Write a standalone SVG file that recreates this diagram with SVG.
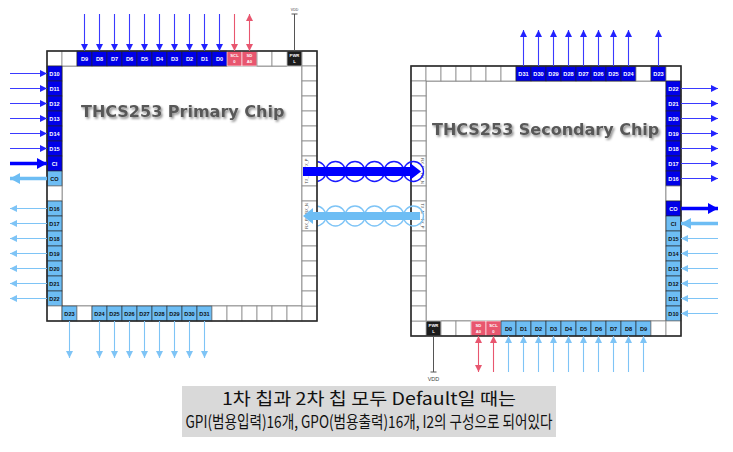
<svg xmlns="http://www.w3.org/2000/svg" width="733" height="452" viewBox="0 0 733 452">
<style>
.c{fill:#fff;stroke:#8a8a8a;stroke-width:0.8}
.db{fill:#0000e8;stroke:#222;stroke-width:0.6}
.lb{fill:#6dbdf4;stroke:#222;stroke-width:0.6}
.pk{fill:#e8566f;stroke:#fff;stroke-width:0.6}
.bk{fill:#1c1c1c;stroke:#fff;stroke-width:0.6}
.frame{fill:none;stroke:#2a2a2a;stroke-width:1.6}
.inner{fill:#fff;stroke:#555;stroke-width:0.8}
.t{font-family:"Liberation Sans",Arial,sans-serif;font-size:5.6px;font-weight:bold;text-anchor:middle}
.ts{font-family:"Liberation Sans",Arial,sans-serif;font-size:4.2px;font-weight:bold;text-anchor:middle}
.tr{font-family:"Liberation Sans",Arial,sans-serif;font-size:4px;fill:#444;text-anchor:middle}
.w{fill:#fff}
.k{fill:#111}
.aB{stroke:#3a3aff;stroke-width:1.1;fill:none}
.aL{stroke:#7ec4f6;stroke-width:1.1;fill:none}
.aP{stroke:#e8566f;stroke-width:1.1;fill:none}
.aG{stroke:#555;stroke-width:1;fill:none}
.thB{stroke:#0000ff;stroke-width:3.5;fill:none}
.thL{stroke:#6dbdf4;stroke-width:3.5;fill:none}
.cirB{fill:none;stroke:#1a1aff;stroke-width:1.4}
.cirL{fill:none;stroke:#7ec4f6;stroke-width:1.4}
.title{font-family:"DejaVu Sans",Verdana,sans-serif;font-weight:bold;font-size:16px;fill:#595959}
.note{font-family:"Noto Sans CJK KR","Noto Sans",sans-serif;font-size:17px;fill:#111;text-anchor:middle}
</style>
<defs>
<marker id="hB" markerUnits="userSpaceOnUse" markerWidth="8" markerHeight="8" refX="7" refY="3.5" orient="auto-start-reverse"><path d="M0,0 L7,3.5 L0,7 Z" fill="#2222ff"/></marker>
<marker id="hL" markerUnits="userSpaceOnUse" markerWidth="8" markerHeight="8" refX="7" refY="3.5" orient="auto-start-reverse"><path d="M0,0 L7,3.5 L0,7 Z" fill="#7ec4f6"/></marker>
<marker id="hP" markerUnits="userSpaceOnUse" markerWidth="8" markerHeight="8" refX="7" refY="3.5" orient="auto-start-reverse"><path d="M0,0 L7,3.5 L0,7 Z" fill="#e8566f"/></marker>
<marker id="hBT" markerUnits="userSpaceOnUse" markerWidth="12" markerHeight="12" refX="10" refY="5.5" orient="auto"><path d="M0,0 L10,5.5 L0,11 Z" fill="#0000ff"/></marker>
<marker id="hLT" markerUnits="userSpaceOnUse" markerWidth="12" markerHeight="12" refX="10" refY="5.5" orient="auto"><path d="M0,0 L10,5.5 L0,11 Z" fill="#6dbdf4"/></marker>
<filter id="sh" x="-10%" y="-30%" width="120%" height="160%"><feDropShadow dx="1.5" dy="1.8" stdDeviation="1" flood-color="#000" flood-opacity="0.45"/></filter>
</defs>
<rect width="733" height="452" fill="#fff"/>

<!-- Secondary chip -->
<g id="secondary-chip">
<rect x="411" y="66" width="270" height="270" fill="#fff"/>
<rect class="inner" x="426" y="81" width="240" height="240"/>
<rect class="c" x="411" y="66" width="15" height="15"/><rect class="c" x="426" y="66" width="15" height="15"/><rect class="c" x="441" y="66" width="15" height="15"/><rect class="c" x="456" y="66" width="15" height="15"/><rect class="c" x="471" y="66" width="15" height="15"/><rect class="c" x="486" y="66" width="15" height="15"/><rect class="c" x="501" y="66" width="15" height="15"/>
<rect class="db" x="516" y="66" width="15" height="15"/><text class="t w" x="523.5" y="75.5">D31</text>
<rect class="db" x="531" y="66" width="15" height="15"/><text class="t w" x="538.5" y="75.5">D30</text>
<rect class="db" x="546" y="66" width="15" height="15"/><text class="t w" x="553.5" y="75.5">D29</text>
<rect class="db" x="561" y="66" width="15" height="15"/><text class="t w" x="568.5" y="75.5">D28</text>
<rect class="db" x="576" y="66" width="15" height="15"/><text class="t w" x="583.5" y="75.5">D27</text>
<rect class="db" x="591" y="66" width="15" height="15"/><text class="t w" x="598.5" y="75.5">D26</text>
<rect class="db" x="606" y="66" width="15" height="15"/><text class="t w" x="613.5" y="75.5">D25</text>
<rect class="db" x="621" y="66" width="15" height="15"/><text class="t w" x="628.5" y="75.5">D24</text>
<rect class="c" x="636" y="66" width="15" height="15"/>
<rect class="db" x="651" y="66" width="15" height="15"/><text class="t w" x="658.5" y="75.5">D23</text>
<rect class="c" x="666" y="66" width="15" height="15"/>
<rect class="db" x="666" y="81" width="15" height="15"/><text class="t w" x="673.5" y="90.5">D22</text>
<rect class="db" x="666" y="96" width="15" height="15"/><text class="t w" x="673.5" y="105.5">D21</text>
<rect class="db" x="666" y="111" width="15" height="15"/><text class="t w" x="673.5" y="120.5">D20</text>
<rect class="db" x="666" y="126" width="15" height="15"/><text class="t w" x="673.5" y="135.5">D19</text>
<rect class="db" x="666" y="141" width="15" height="15"/><text class="t w" x="673.5" y="150.5">D18</text>
<rect class="db" x="666" y="156" width="15" height="15"/><text class="t w" x="673.5" y="165.5">D17</text>
<rect class="db" x="666" y="171" width="15" height="15"/><text class="t w" x="673.5" y="180.5">D16</text>
<rect class="c" x="666" y="186" width="15" height="15"/>
<rect class="db" x="666" y="201" width="15" height="15"/><text class="t w" x="673.5" y="210.5">CO</text>
<rect class="lb" x="666" y="216" width="15" height="15"/><text class="t k" x="673.5" y="225.5">CI</text>
<rect class="lb" x="666" y="231" width="15" height="15"/><text class="t k" x="673.5" y="240.5">D15</text>
<rect class="lb" x="666" y="246" width="15" height="15"/><text class="t k" x="673.5" y="255.5">D14</text>
<rect class="lb" x="666" y="261" width="15" height="15"/><text class="t k" x="673.5" y="270.5">D13</text>
<rect class="lb" x="666" y="276" width="15" height="15"/><text class="t k" x="673.5" y="285.5">D12</text>
<rect class="lb" x="666" y="291" width="15" height="15"/><text class="t k" x="673.5" y="300.5">D11</text>
<rect class="lb" x="666" y="306" width="15" height="15"/><text class="t k" x="673.5" y="315.5">D10</text>
<rect class="c" x="411" y="321" width="15" height="15"/>
<rect class="bk" x="426" y="321" width="15" height="15"/><text class="ts w" x="433.5" y="327">PWR</text><text class="ts w" x="433.5" y="332.5">L</text>
<rect class="c" x="441" y="321" width="15" height="15"/><rect class="c" x="456" y="321" width="15" height="15"/>
<rect class="pk" x="471" y="321" width="15" height="15"/><text class="ts w" x="478.5" y="327">SD</text><text class="ts w" x="478.5" y="332.5">A0</text>
<rect class="pk" x="486" y="321" width="15" height="15"/><text class="ts w" x="493.5" y="327">SCL</text><text class="ts w" x="493.5" y="332.5">0</text>
<rect class="lb" x="501" y="321" width="15" height="15"/><text class="t k" x="508.5" y="330.5">D0</text>
<rect class="lb" x="516" y="321" width="15" height="15"/><text class="t k" x="523.5" y="330.5">D1</text>
<rect class="lb" x="531" y="321" width="15" height="15"/><text class="t k" x="538.5" y="330.5">D2</text>
<rect class="lb" x="546" y="321" width="15" height="15"/><text class="t k" x="553.5" y="330.5">D3</text>
<rect class="lb" x="561" y="321" width="15" height="15"/><text class="t k" x="568.5" y="330.5">D4</text>
<rect class="lb" x="576" y="321" width="15" height="15"/><text class="t k" x="583.5" y="330.5">D5</text>
<rect class="lb" x="591" y="321" width="15" height="15"/><text class="t k" x="598.5" y="330.5">D6</text>
<rect class="lb" x="606" y="321" width="15" height="15"/><text class="t k" x="613.5" y="330.5">D7</text>
<rect class="lb" x="621" y="321" width="15" height="15"/><text class="t k" x="628.5" y="330.5">D8</text>
<rect class="lb" x="636" y="321" width="15" height="15"/><text class="t k" x="643.5" y="330.5">D9</text>
<rect class="c" x="651" y="321" width="15" height="15"/><rect class="c" x="666" y="321" width="15" height="15"/>
<rect class="c" x="411" y="81" width="15" height="15"/><rect class="c" x="411" y="96" width="15" height="15"/><rect class="c" x="411" y="111" width="15" height="15"/><rect class="c" x="411" y="126" width="15" height="15"/><rect class="c" x="411" y="141" width="15" height="15"/>
<rect class="c" x="411" y="156" width="15" height="30"/>
<text class="tr" transform="translate(420.5,163.5) rotate(90)">RX_P</text><text class="tr" transform="translate(420.5,178.5) rotate(90)">RX_N</text>
<rect class="c" x="411" y="186" width="15" height="15"/>
<rect class="c" x="411" y="201" width="15" height="30"/>
<text class="tr" transform="translate(420.5,208.5) rotate(90)">TX_N</text><text class="tr" transform="translate(420.5,223.5) rotate(90)">TX_P</text>
<rect class="c" x="411" y="231" width="15" height="15"/><rect class="c" x="411" y="246" width="15" height="15"/><rect class="c" x="411" y="261" width="15" height="15"/><rect class="c" x="411" y="276" width="15" height="15"/><rect class="c" x="411" y="291" width="15" height="15"/><rect class="c" x="411" y="306" width="15" height="15"/>
<rect class="frame" x="411" y="66" width="270" height="270"/>
<text class="title" x="432" y="135" filter="url(#sh)">THCS253 Secondary Chip</text>
</g>

<g id="link-coils">
<circle class="cirB" cx="316" cy="171.5" r="10"/><circle class="cirB" cx="335.5" cy="171.5" r="10"/><circle class="cirB" cx="355" cy="171.5" r="10"/><circle class="cirB" cx="374.5" cy="171.5" r="10"/><circle class="cirB" cx="394" cy="171.5" r="10"/><circle class="cirB" cx="413.5" cy="171.5" r="10"/>
<circle class="cirL" cx="316" cy="216" r="10"/><circle class="cirL" cx="335.5" cy="216" r="10"/><circle class="cirL" cx="355" cy="216" r="10"/><circle class="cirL" cx="374.5" cy="216" r="10"/><circle class="cirL" cx="394" cy="216" r="10"/><circle class="cirL" cx="413.5" cy="216" r="10"/>
</g>

<g id="primary-chip">
<rect x="47" y="51" width="270" height="270" fill="#fff"/>
<rect class="inner" x="62" y="66" width="240" height="240"/>
<rect class="c" x="47" y="51" width="15" height="15"/><rect class="c" x="62" y="51" width="15" height="15"/>
<rect class="db" x="77" y="51" width="15" height="15"/><text class="t w" x="84.5" y="60.5">D9</text>
<rect class="db" x="92" y="51" width="15" height="15"/><text class="t w" x="99.5" y="60.5">D8</text>
<rect class="db" x="107" y="51" width="15" height="15"/><text class="t w" x="114.5" y="60.5">D7</text>
<rect class="db" x="122" y="51" width="15" height="15"/><text class="t w" x="129.5" y="60.5">D6</text>
<rect class="db" x="137" y="51" width="15" height="15"/><text class="t w" x="144.5" y="60.5">D5</text>
<rect class="db" x="152" y="51" width="15" height="15"/><text class="t w" x="159.5" y="60.5">D4</text>
<rect class="db" x="167" y="51" width="15" height="15"/><text class="t w" x="174.5" y="60.5">D3</text>
<rect class="db" x="182" y="51" width="15" height="15"/><text class="t w" x="189.5" y="60.5">D2</text>
<rect class="db" x="197" y="51" width="15" height="15"/><text class="t w" x="204.5" y="60.5">D1</text>
<rect class="db" x="212" y="51" width="15" height="15"/><text class="t w" x="219.5" y="60.5">D0</text>
<rect class="pk" x="227" y="51" width="15" height="15"/><text class="ts w" x="234.5" y="57">SCL</text><text class="ts w" x="234.5" y="62.5">0</text>
<rect class="pk" x="242" y="51" width="15" height="15"/><text class="ts w" x="249.5" y="57">SD</text><text class="ts w" x="249.5" y="62.5">A0</text>
<rect class="c" x="257" y="51" width="15" height="15"/><rect class="c" x="272" y="51" width="15" height="15"/>
<rect class="bk" x="287" y="51" width="15" height="15"/><text class="ts w" x="294.5" y="57">PWR</text><text class="ts w" x="294.5" y="62.5">L</text>
<rect class="c" x="302" y="51" width="15" height="15"/>
<rect class="db" x="47" y="66" width="15" height="15"/><text class="t w" x="54.5" y="75.5">D10</text>
<rect class="db" x="47" y="81" width="15" height="15"/><text class="t w" x="54.5" y="90.5">D11</text>
<rect class="db" x="47" y="96" width="15" height="15"/><text class="t w" x="54.5" y="105.5">D12</text>
<rect class="db" x="47" y="111" width="15" height="15"/><text class="t w" x="54.5" y="120.5">D13</text>
<rect class="db" x="47" y="126" width="15" height="15"/><text class="t w" x="54.5" y="135.5">D14</text>
<rect class="db" x="47" y="141" width="15" height="15"/><text class="t w" x="54.5" y="150.5">D15</text>
<rect class="db" x="47" y="156" width="15" height="15"/><text class="t w" x="54.5" y="165.5">CI</text>
<rect class="lb" x="47" y="171" width="15" height="15"/><text class="t k" x="54.5" y="180.5">CO</text>
<rect class="c" x="47" y="186" width="15" height="15"/>
<rect class="lb" x="47" y="201" width="15" height="15"/><text class="t k" x="54.5" y="210.5">D16</text>
<rect class="lb" x="47" y="216" width="15" height="15"/><text class="t k" x="54.5" y="225.5">D17</text>
<rect class="lb" x="47" y="231" width="15" height="15"/><text class="t k" x="54.5" y="240.5">D18</text>
<rect class="lb" x="47" y="246" width="15" height="15"/><text class="t k" x="54.5" y="255.5">D19</text>
<rect class="lb" x="47" y="261" width="15" height="15"/><text class="t k" x="54.5" y="270.5">D20</text>
<rect class="lb" x="47" y="276" width="15" height="15"/><text class="t k" x="54.5" y="285.5">D21</text>
<rect class="lb" x="47" y="291" width="15" height="15"/><text class="t k" x="54.5" y="300.5">D22</text>
<rect class="c" x="47" y="306" width="15" height="15"/>
<rect class="lb" x="62" y="306" width="15" height="15"/><text class="t k" x="69.5" y="315.5">D23</text>
<rect class="c" x="77" y="306" width="15" height="15"/>
<rect class="lb" x="92" y="306" width="15" height="15"/><text class="t k" x="99.5" y="315.5">D24</text>
<rect class="lb" x="107" y="306" width="15" height="15"/><text class="t k" x="114.5" y="315.5">D25</text>
<rect class="lb" x="122" y="306" width="15" height="15"/><text class="t k" x="129.5" y="315.5">D26</text>
<rect class="lb" x="137" y="306" width="15" height="15"/><text class="t k" x="144.5" y="315.5">D27</text>
<rect class="lb" x="152" y="306" width="15" height="15"/><text class="t k" x="159.5" y="315.5">D28</text>
<rect class="lb" x="167" y="306" width="15" height="15"/><text class="t k" x="174.5" y="315.5">D29</text>
<rect class="lb" x="182" y="306" width="15" height="15"/><text class="t k" x="189.5" y="315.5">D30</text>
<rect class="lb" x="197" y="306" width="15" height="15"/><text class="t k" x="204.5" y="315.5">D31</text>
<rect class="c" x="212" y="306" width="15" height="15"/><rect class="c" x="227" y="306" width="15" height="15"/><rect class="c" x="242" y="306" width="15" height="15"/><rect class="c" x="257" y="306" width="15" height="15"/><rect class="c" x="272" y="306" width="15" height="15"/><rect class="c" x="287" y="306" width="15" height="15"/><rect class="c" x="302" y="306" width="15" height="15"/>
<rect class="c" x="302" y="66" width="15" height="15"/><rect class="c" x="302" y="81" width="15" height="15"/><rect class="c" x="302" y="96" width="15" height="15"/><rect class="c" x="302" y="111" width="15" height="15"/><rect class="c" x="302" y="126" width="15" height="15"/><rect class="c" x="302" y="141" width="15" height="15"/>
<rect class="c" x="302" y="156" width="15" height="30"/>
<text class="tr" transform="translate(307.5,163.5) rotate(-90)">TX_P</text><text class="tr" transform="translate(307.5,178.5) rotate(-90)">TX_N</text>
<rect class="c" x="302" y="186" width="15" height="15"/>
<rect class="c" x="302" y="201" width="15" height="30"/>
<text class="tr" transform="translate(307.5,208.5) rotate(-90)">RX_N</text><text class="tr" transform="translate(307.5,223.5) rotate(-90)">RX_P</text>
<rect class="c" x="302" y="231" width="15" height="15"/><rect class="c" x="302" y="246" width="15" height="15"/><rect class="c" x="302" y="261" width="15" height="15"/><rect class="c" x="302" y="276" width="15" height="15"/><rect class="c" x="302" y="291" width="15" height="15"/>
<rect class="frame" x="47" y="51" width="270" height="270"/>
<text class="title" x="81" y="117" filter="url(#sh)">THCS253 Primary Chip</text>
</g>

<g id="connectors">
<line class="aB" x1="84.5" y1="14" x2="84.5" y2="51" marker-end="url(#hB)"/>
<line class="aB" x1="99.5" y1="14" x2="99.5" y2="51" marker-end="url(#hB)"/>
<line class="aB" x1="114.5" y1="14" x2="114.5" y2="51" marker-end="url(#hB)"/>
<line class="aB" x1="129.5" y1="14" x2="129.5" y2="51" marker-end="url(#hB)"/>
<line class="aB" x1="144.5" y1="14" x2="144.5" y2="51" marker-end="url(#hB)"/>
<line class="aB" x1="159.5" y1="14" x2="159.5" y2="51" marker-end="url(#hB)"/>
<line class="aB" x1="174.5" y1="14" x2="174.5" y2="51" marker-end="url(#hB)"/>
<line class="aB" x1="189.5" y1="14" x2="189.5" y2="51" marker-end="url(#hB)"/>
<line class="aB" x1="204.5" y1="14" x2="204.5" y2="51" marker-end="url(#hB)"/>
<line class="aB" x1="219.5" y1="14" x2="219.5" y2="51" marker-end="url(#hB)"/>
<line class="aP" x1="234.5" y1="14" x2="234.5" y2="51" marker-end="url(#hP)"/>
<line class="aP" x1="249.5" y1="14" x2="249.5" y2="51" marker-start="url(#hP)" marker-end="url(#hP)"/>
<line class="aG" x1="294.5" y1="14" x2="294.5" y2="51"/>
<line class="aG" x1="291.5" y1="14" x2="297.5" y2="14"/>
<text class="tr" x="294.5" y="11" style="font-size:3.5px">VDD</text>
<line class="aB" x1="10" y1="73.5" x2="47" y2="73.5" marker-end="url(#hB)"/>
<line class="aB" x1="10" y1="88.5" x2="47" y2="88.5" marker-end="url(#hB)"/>
<line class="aB" x1="10" y1="103.5" x2="47" y2="103.5" marker-end="url(#hB)"/>
<line class="aB" x1="10" y1="118.5" x2="47" y2="118.5" marker-end="url(#hB)"/>
<line class="aB" x1="10" y1="133.5" x2="47" y2="133.5" marker-end="url(#hB)"/>
<line class="aB" x1="10" y1="148.5" x2="47" y2="148.5" marker-end="url(#hB)"/>
<line class="thB" x1="10" y1="163.5" x2="47" y2="163.5" marker-end="url(#hBT)"/>
<line class="thL" x1="47" y1="178.5" x2="10" y2="178.5" marker-end="url(#hLT)"/>
<line class="aL" x1="47" y1="208.5" x2="10" y2="208.5" marker-end="url(#hL)"/>
<line class="aL" x1="47" y1="223.5" x2="10" y2="223.5" marker-end="url(#hL)"/>
<line class="aL" x1="47" y1="238.5" x2="10" y2="238.5" marker-end="url(#hL)"/>
<line class="aL" x1="47" y1="253.5" x2="10" y2="253.5" marker-end="url(#hL)"/>
<line class="aL" x1="47" y1="268.5" x2="10" y2="268.5" marker-end="url(#hL)"/>
<line class="aL" x1="47" y1="283.5" x2="10" y2="283.5" marker-end="url(#hL)"/>
<line class="aL" x1="47" y1="298.5" x2="10" y2="298.5" marker-end="url(#hL)"/>
<line class="aL" x1="69.5" y1="321" x2="69.5" y2="358" marker-end="url(#hL)"/>
<line class="aL" x1="99.5" y1="321" x2="99.5" y2="358" marker-end="url(#hL)"/>
<line class="aL" x1="114.5" y1="321" x2="114.5" y2="358" marker-end="url(#hL)"/>
<line class="aL" x1="129.5" y1="321" x2="129.5" y2="358" marker-end="url(#hL)"/>
<line class="aL" x1="144.5" y1="321" x2="144.5" y2="358" marker-end="url(#hL)"/>
<line class="aL" x1="159.5" y1="321" x2="159.5" y2="358" marker-end="url(#hL)"/>
<line class="aL" x1="174.5" y1="321" x2="174.5" y2="358" marker-end="url(#hL)"/>
<line class="aL" x1="189.5" y1="321" x2="189.5" y2="358" marker-end="url(#hL)"/>
<line class="aL" x1="204.5" y1="321" x2="204.5" y2="358" marker-end="url(#hL)"/>
<path d="M303,167 L410,167 L410,163 L421,171.5 L410,180 L410,176 L303,176 Z" fill="#0000ff"/>
<path d="M420,212 L313,212 L313,208 L303,216 L313,224 L313,220 L420,220 Z" fill="#6dbdf4"/>
<line class="aB" x1="523.5" y1="66" x2="523.5" y2="30" marker-end="url(#hB)"/>
<line class="aB" x1="538.5" y1="66" x2="538.5" y2="30" marker-end="url(#hB)"/>
<line class="aB" x1="553.5" y1="66" x2="553.5" y2="30" marker-end="url(#hB)"/>
<line class="aB" x1="568.5" y1="66" x2="568.5" y2="30" marker-end="url(#hB)"/>
<line class="aB" x1="583.5" y1="66" x2="583.5" y2="30" marker-end="url(#hB)"/>
<line class="aB" x1="598.5" y1="66" x2="598.5" y2="30" marker-end="url(#hB)"/>
<line class="aB" x1="613.5" y1="66" x2="613.5" y2="30" marker-end="url(#hB)"/>
<line class="aB" x1="628.5" y1="66" x2="628.5" y2="30" marker-end="url(#hB)"/>
<line class="aB" x1="658.5" y1="66" x2="658.5" y2="30" marker-end="url(#hB)"/>
<line class="aB" x1="681" y1="88.5" x2="718" y2="88.5" marker-end="url(#hB)"/>
<line class="aB" x1="681" y1="103.5" x2="718" y2="103.5" marker-end="url(#hB)"/>
<line class="aB" x1="681" y1="118.5" x2="718" y2="118.5" marker-end="url(#hB)"/>
<line class="aB" x1="681" y1="133.5" x2="718" y2="133.5" marker-end="url(#hB)"/>
<line class="aB" x1="681" y1="148.5" x2="718" y2="148.5" marker-end="url(#hB)"/>
<line class="aB" x1="681" y1="163.5" x2="718" y2="163.5" marker-end="url(#hB)"/>
<line class="aB" x1="681" y1="178.5" x2="718" y2="178.5" marker-end="url(#hB)"/>
<line class="thB" x1="681" y1="208.5" x2="718" y2="208.5" marker-end="url(#hBT)"/>
<line class="thL" x1="718" y1="223.5" x2="681" y2="223.5" marker-end="url(#hLT)"/>
<line class="aL" x1="718" y1="238.5" x2="681" y2="238.5" marker-end="url(#hL)"/>
<line class="aL" x1="718" y1="253.5" x2="681" y2="253.5" marker-end="url(#hL)"/>
<line class="aL" x1="718" y1="268.5" x2="681" y2="268.5" marker-end="url(#hL)"/>
<line class="aL" x1="718" y1="283.5" x2="681" y2="283.5" marker-end="url(#hL)"/>
<line class="aL" x1="718" y1="298.5" x2="681" y2="298.5" marker-end="url(#hL)"/>
<line class="aL" x1="718" y1="313.5" x2="681" y2="313.5" marker-end="url(#hL)"/>
<line class="aG" x1="433.5" y1="336" x2="433.5" y2="372"/>
<line class="aG" x1="430.5" y1="372" x2="436.5" y2="372"/>
<text class="tr" x="433.5" y="381" style="font-size:5.5px">VDD</text>
<line class="aP" x1="478.5" y1="372" x2="478.5" y2="336" marker-start="url(#hP)" marker-end="url(#hP)"/>
<line class="aP" x1="493.5" y1="372" x2="493.5" y2="336" marker-end="url(#hP)"/>
<line class="aL" x1="508.5" y1="372" x2="508.5" y2="336" marker-end="url(#hL)"/>
<line class="aL" x1="523.5" y1="372" x2="523.5" y2="336" marker-end="url(#hL)"/>
<line class="aL" x1="538.5" y1="372" x2="538.5" y2="336" marker-end="url(#hL)"/>
<line class="aL" x1="553.5" y1="372" x2="553.5" y2="336" marker-end="url(#hL)"/>
<line class="aL" x1="568.5" y1="372" x2="568.5" y2="336" marker-end="url(#hL)"/>
<line class="aL" x1="583.5" y1="372" x2="583.5" y2="336" marker-end="url(#hL)"/>
<line class="aL" x1="598.5" y1="372" x2="598.5" y2="336" marker-end="url(#hL)"/>
<line class="aL" x1="613.5" y1="372" x2="613.5" y2="336" marker-end="url(#hL)"/>
<line class="aL" x1="628.5" y1="372" x2="628.5" y2="336" marker-end="url(#hL)"/>
<line class="aL" x1="643.5" y1="372" x2="643.5" y2="336" marker-end="url(#hL)"/>
</g>

<g id="note">
<rect x="182" y="386" width="374" height="51" fill="#d9d9d9"/>
<text class="note" x="369" y="405" textLength="294" lengthAdjust="spacingAndGlyphs">1차 칩과 2차 칩 모두 Default일 때는</text>
<text class="note" x="369" y="428" textLength="367" lengthAdjust="spacingAndGlyphs">GPI(범용입력)16개, GPO(범용출력)16개, I2의 구성으로 되어있다</text>
</g>
</svg>
